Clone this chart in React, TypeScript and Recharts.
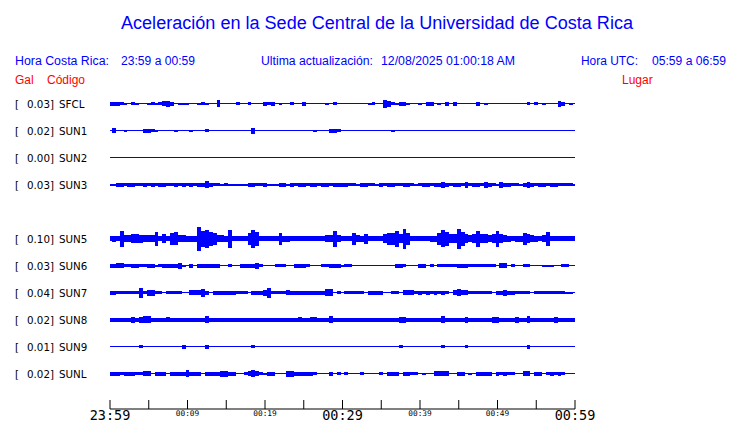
import { ComposedChart, Area, XAxis, YAxis, ReferenceLine } from 'recharts'

// stations, top to bottom (slot 4 = SUN4 is empty on the page)
const codes = ['SFCL', 'SUN1', 'SUN2', 'SUN3', 'SUN5', 'SUN6', 'SUN7', 'SUN8', 'SUN9', 'SUNL']
const peakGal = ['0.03', '0.02', '0.00', '0.03', '0.10', '0.03', '0.04', '0.02', '0.01', '0.02']
const places = [
    'Finca El Corralillo, Coronado', 'CIMAR', 'Ingenieria P01', 'Ingenieria P06', 'Rectoria',
    'Agroalimentarias', 'Archivo', 'Electrica P06', 'Electrica P01', 'LANAMME-CTT',
]
const slots = [0, 1, 2, 3, 5, 6, 7, 8, 9, 10]

// minutes after 23:59, one tick every 5 min
const xTicks = [0, 5, 10, 15, 20, 25, 30, 35, 40, 45, 50, 55, 60]
const xTickLabels = ['23:59', '', '00:09', '', '00:19', '', '00:29', '', '00:39', '', '00:49', '', '00:59']
const bigTicks = ['23:59', '00:29', '00:59']

// half-amplitude envelope of each trace, one value every 30 s
const SFCL = [2, 2, 2, 1.5, 1, 0, 1.5, 1, 0, 0,
    1, 1.5, 1, 1.5, 2.5, 3, 2, 0, 1, 1,
    1, 0, 0, 1, 1.5, 1, 0, 0, 3.5, 0,
    0, 0, 0, 1.5, 0, 0, 1.5, 0, 0, 0,
    2, 1.5, 2, 0, 1, 0, 0, 1.5, 0, 0,
    2, 0, 0, 0, 0, 0, 1, 0, 1.5, 0,
    0, 0, 0, 0, 0, 0, 0, 1, 1.5, 0,
    0, 4, 3, 1.5, 1, 2, 2, 1, 0, 0,
    1, 0, 2, 2, 0, 1, 0, 2, 0, 2,
    0, 0, 0, 0, 0, 2, 0, 1, 0, 0,
    0, 0, 0, 0, 0, 0, 0, 0, 1.5, 0,
    1.5, 0, 1, 0, 0, 0, 3, 2, 0, 1,
    0]
const SUN1 = [0, 2.5, 0, 0, 1, 0, 0, 0, 0, 2,
    2, 1.5, 1, 0, 0, 0, 0, 1, 0, 0,
    0, 1, 0, 0, 0, 1.5, 0, 0, 0, 0,
    0, 0, 0, 0, 0, 0, 0, 3, 0, 0,
    0, 0, 0, 0, 0, 0, 0, 0, 0, 0,
    0, 0, 0, 1, 0, 0, 0, 2, 2, 1.5,
    0, 0, 0, 0, 0, 0, 0, 0, 0, 0,
    0, 0, 0, 1, 0, 0, 0, 0, 0, 0,
    0, 0, 0, 0, 0, 0, 0, 0, 0, 0,
    0, 0, 0, 0, 0, 0, 0, 0, 0, 0,
    0, 0, 0, 0, 0, 0, 0, 0, 0, 0,
    0, 0, 0, 0, 0, 0, 0, 0, 0, 0,
    0]
const SUN2 = [0, 0, 0, 0, 0, 0, 0, 0, 0, 0,
    0, 0, 0, 0, 0, 0, 0, 0, 0, 0,
    0, 0, 0, 0, 0, 0, 0, 0, 0, 0,
    0, 0, 0, 0, 0, 0, 0, 0, 0, 0,
    0, 0, 0, 0, 0, 0, 0, 0, 0, 0,
    0, 0, 0, 0, 0, 0, 0, 0, 0, 0,
    0, 0, 0, 0, 0, 0, 0, 0, 0, 0,
    0, 0, 0, 0, 0, 0, 0, 0, 0, 0,
    0, 0, 0, 0, 0, 0, 0, 0, 0, 0,
    0, 0, 0, 0, 0, 0, 0, 0, 0, 0,
    0, 0, 0, 0, 0, 0, 0, 0, 0, 0,
    0, 0, 0, 0, 0, 0, 0, 0, 0, 0,
    0]
const SUN3 = [1, 1, 2, 2, 1.5, 2, 2, 1.5, 1.5, 2,
    1.5, 2, 1.5, 2, 2, 1.5, 1.5, 2, 1.5, 2,
    1.5, 2, 1.5, 2, 2, 3.5, 2, 1.5, 1.5, 1,
    1.5, 1, 1, 1, 1, 1, 2, 2, 1.5, 1.5,
    2, 1, 1, 1, 2, 2, 1, 2, 1.5, 2,
    2, 1.5, 2, 2, 1.5, 2, 2, 1.5, 2, 2,
    2, 2, 1.5, 1.5, 1, 2, 2, 1.5, 1.5, 1,
    2, 1.5, 2, 2, 1.5, 1.5, 2, 2, 1.5, 1,
    1.5, 2, 2, 1.5, 2, 2, 3, 2, 1.5, 2,
    2, 1.5, 3, 1.5, 2, 2, 1.5, 3, 2, 1.5,
    1, 3, 2, 2, 1.5, 1.5, 1, 2, 3, 2,
    1.5, 2, 2, 1.5, 2, 2, 1.5, 1.5, 1.5, 1.5,
    1]
const SUN5 = [2.5, 3, 2.5, 8, 3.5, 3.5, 4.5, 4.5, 4, 3.5,
    3.5, 3.5, 7, 2.5, 4.5, 2.5, 6, 6.5, 3.5, 3.5,
    3, 3, 3, 12, 8, 9, 7, 6, 3.5, 3.5,
    3, 9, 2.3, 2.5, 2.3, 2.5, 6, 9, 7, 2.5,
    2.5, 2.5, 2.5, 2.5, 6, 3, 3, 2.5, 2.5, 2.5,
    2.3, 2.5, 2.5, 2.3, 2.5, 2.5, 3.5, 3.5, 8, 3.5,
    2.5, 2.3, 2.3, 6, 3.5, 3, 5, 2.5, 2.3, 2.3,
    2.3, 4.5, 6, 6, 8, 4.5, 10, 6, 2.5, 2.5,
    2.3, 2.5, 2.5, 3, 3, 6, 8.5, 7, 4.5, 4.5,
    10, 7, 4.5, 3.5, 4.5, 8, 4.5, 4.5, 3.5, 4.5,
    8, 4.5, 3.5, 3, 2.5, 3, 3, 6, 4.5, 3.5,
    3, 2.5, 3.5, 7, 2.5, 2.3, 2.3, 2.3, 2.3, 2.3,
    2.3]
const SUN6 = [2, 2, 2.5, 2.5, 1.5, 1.5, 2, 2, 1.5, 1.5,
    2, 2, 1, 1.5, 2, 2, 2, 2, 3, 1,
    0, 2, 0, 2, 2, 2, 2, 2, 2, 0,
    0, 1.5, 0, 0, 2, 2, 2, 2, 3, 1.5,
    0, 0, 0, 1.5, 1.5, 1.5, 0, 0, 2, 2,
    2, 1.5, 0, 0, 0, 1.5, 1.5, 2, 2, 2,
    1, 1.5, 1.5, 0, 0, 0, 0, 0, 0, 0,
    0, 0, 0, 0, 2, 2, 1.5, 0, 0, 0,
    2, 2, 0, 1.5, 0, 1.5, 1.5, 1.5, 1.5, 1.5,
    2, 2, 2, 1.5, 1.5, 1.5, 1.5, 1.5, 1.5, 1.5,
    0, 2.5, 2.5, 0, 1.5, 0, 0, 1.5, 1.5, 0,
    0, 0, 1, 1, 1, 0, 0, 1.5, 1.5, 0,
    0]
const SUN7 = [2, 2, 1.5, 1.5, 1.5, 1.5, 1.5, 1.5, 5, 1.5,
    3, 3, 1.5, 1.5, 0, 1.5, 1.5, 1.5, 1.5, 0,
    0, 2.5, 2.5, 2.5, 4, 2, 0, 2, 2, 2,
    2, 2, 2, 1.5, 1.5, 1.5, 0, 2, 2, 2,
    3, 5, 1.5, 1.5, 1.5, 1.5, 2.5, 2, 2, 2,
    2, 2, 2, 2, 2, 2, 3.5, 3.5, 0, 1.5,
    0, 1.5, 1.5, 1.5, 1.5, 1.5, 0, 2, 2, 2,
    2, 0, 0, 1.5, 1.5, 0, 2.5, 2.5, 2.5, 1.5,
    2, 1.5, 2, 1.5, 2, 1.5, 2, 1.5, 0, 2.5,
    3.5, 2.5, 2.5, 1.5, 1.5, 1.5, 1.5, 1.5, 1.5, 0,
    2, 2, 3, 2, 2, 1.5, 1.5, 1.5, 1.5, 0,
    1.5, 1.5, 1.5, 1.5, 1.5, 1.5, 1.5, 1.5, 1, 1,
    0]
const SUN8 = [2, 2, 2, 2, 2, 2, 3, 2, 3, 3.5,
    3.5, 2, 2, 2, 2, 2.5, 2, 2, 2, 2,
    2, 2, 2, 2, 2, 3.5, 2, 2, 2, 2,
    2, 2, 2, 2, 2, 2, 2, 2, 2, 2,
    2, 2, 2, 2, 2, 2, 2, 2, 2, 2.5,
    2, 2, 2.5, 2.5, 2, 2, 2, 3.5, 2, 2,
    2, 2, 2, 2, 2, 2, 2, 2, 2, 2,
    2, 2, 2, 2, 2, 3, 3, 2, 2, 2,
    2, 2, 2, 2, 2, 2, 3.5, 2, 2, 2,
    2, 2, 3, 2, 2, 2, 2, 2, 2, 3,
    3, 2, 2, 2, 2, 3, 2, 2, 3.5, 2,
    2, 2, 2, 2, 2, 3, 2, 2, 2, 2,
    2]
const SUN9 = [0, 0, 0, 0, 0, 0, 0, 0, 1.5, 0,
    0, 0, 0, 0, 0, 0, 0, 0, 0, 2,
    0, 0, 0, 0, 0, 2, 0, 0, 0, 0,
    0, 0, 0, 0, 0, 0, 0, 1.5, 0, 0,
    0, 0, 0, 0, 0, 0, 0, 0, 0, 0,
    0, 0, 0, 0, 0, 0, 0, 0, 0, 0,
    0, 0, 0, 0, 0, 0, 0, 0, 0, 0,
    0, 0, 0, 0, 0, 1.5, 0, 0, 0, 0,
    0, 0, 0, 0, 0, 0, 1.5, 0, 0, 0,
    0, 0, 1.5, 0, 0, 0, 0, 0, 0, 0,
    0, 0, 0, 0, 0, 0, 0, 0, 2, 0,
    0, 0, 0, 0, 0, 0, 0, 0, 0, 0,
    0]
const SUNL = [2, 2, 2, 1.5, 2, 2, 2, 1.5, 1.5, 2.5,
    2.5, 0, 2, 2, 2, 0, 2, 2, 2, 2,
    3.5, 2, 2, 2, 0, 2, 2, 2, 2, 3,
    3, 2, 2, 0, 0, 1.5, 2.5, 3.5, 2.5, 1.5,
    1, 2, 2, 0, 0, 0, 3, 3, 2, 2,
    2, 2, 2, 1.5, 0, 0, 0, 2, 0, 1.5,
    0, 1.5, 0, 0, 0, 1.5, 0, 0, 0, 0,
    1.5, 0, 2, 2, 2, 0, 2, 2, 1.5, 1.5,
    0, 1, 0, 0, 2.5, 2.5, 2.5, 2.5, 0, 0,
    2, 2, 0, 1, 0, 2, 2, 2, 2, 0,
    2, 1.5, 2, 1.5, 1.5, 0, 0, 2.5, 2.5, 0,
    2, 2, 0, 1.5, 2, 1.5, 2, 1.5, 0, 0,
    0]

const traces = [SFCL, SUN1, SUN2, SUN3, SUN5, SUN6, SUN7, SUN8, SUN9, SUNL]

const GAP = 27
const BLUE = '#0000ff'

const data = SFCL.map((_, i) => {
    const row: Record<string, any> = { t: i / 2 }
    codes.forEach((code, s) => {
        const base = -GAP * slots[s]
        const a = traces[s][i]
        row[code] = [base - a, base + a]
    })
    return row
})

const yTicks = slots.map((s) => -GAP * s)

function stationIndex(v: number) {
    return yTicks.indexOf(v)
}

function LeftTick(props: any) {
    const { x, y, payload } = props
    const s = stationIndex(payload.value)
    if (s < 0) return null
    return (
        <g fontFamily="DejaVu Sans" fontSize={10.3} fill="#000">
            <text x={x - 95} y={y + 4}>[</text>
            <text x={x - 56} y={y + 4} textAnchor="end">{peakGal[s]}]</text>
            <text x={x - 51} y={y + 4}>{codes[s]}</text>
        </g>
    )
}

function RightTick(props: any) {
    const { x, y, payload } = props
    const s = stationIndex(payload.value)
    if (s < 0) return null
    return (
        <text x={x + 12} y={y + 4} fontFamily="DejaVu Sans" fontSize={10.3} fill="#000">
            {places[s]}
        </text>
    )
}

function TimeTick(props: any) {
    const { x, y, index } = props
    const label = xTickLabels[index]
    const big = bigTicks.includes(label)
    return (
        <g>
            <line x1={x} x2={x} y1={y} y2={y - 9} stroke="#000" strokeWidth={1} />
            {label && (
                <text
                    x={x}
                    y={big ? y + 10.5 : y + 6.5}
                    textAnchor="middle"
                    fontFamily="DejaVu Sans Mono"
                    fontSize={big ? 13.5 : 7.8}
                    fill="#000"
                >
                    {label}
                </text>
            )}
        </g>
    )
}

function Header() {
    const f = 'Liberation Sans, Arial, sans-serif'
    return (
        <svg width={740} height={92} style={{ position: 'absolute', left: 0, top: 0, pointerEvents: 'none' }}>
            <text x={121} y={29} fontFamily={f} fontSize={18} fill={BLUE} textLength={512} lengthAdjust="spacingAndGlyphs">
                Aceleración en la Sede Central de la Universidad de Costa Rica
            </text>
            <g fontFamily={f} fontSize={12} fill={BLUE}>
                <text x={15} y={65} textLength={94} lengthAdjust="spacingAndGlyphs">Hora Costa Rica:</text>
                <text x={121} y={65} textLength={74} lengthAdjust="spacingAndGlyphs">23:59 a 00:59</text>
                <text x={261} y={65} textLength={112} lengthAdjust="spacingAndGlyphs">Ultima actualización:</text>
                <text x={381} y={65} textLength={134} lengthAdjust="spacingAndGlyphs">12/08/2025 01:00:18 AM</text>
                <text x={581} y={65} textLength={57} lengthAdjust="spacingAndGlyphs">Hora UTC:</text>
                <text x={652} y={65} textLength={74} lengthAdjust="spacingAndGlyphs">05:59 a 06:59</text>
            </g>
            <g fontFamily={f} fontSize={12} fill="#ff0000">
                <text x={15} y={84}>Gal</text>
                <text x={47} y={84}>Código</text>
                <text x={622} y={84}>Lugar</text>
            </g>
        </svg>
    )
}

export default function App() {
    return (
        <div style={{ position: 'absolute', left: 0, top: 0, width: 740, height: 423, background: '#fff' }}>
            <style>{'.recharts-area-area{shape-rendering:crispEdges}'}</style>
            <Header />
            <ComposedChart width={740} height={423} data={data} margin={{ top: 76, right: 0, bottom: 0, left: 0 }}>
                <XAxis
                    dataKey="t"
                    type="number"
                    domain={[0, 60]}
                    ticks={xTicks}
                    interval={0}
                    height={14}
                    tickSize={0}
                    tickMargin={0}
                    tickLine={false}
                    axisLine={{ stroke: '#000', strokeWidth: 1 }}
                    tick={TimeTick}
                />
                <YAxis
                    yAxisId="left"
                    type="number"
                    domain={[-305.5, 27.5]}
                    ticks={yTicks}
                    interval={0}
                    width={110}
                    tickSize={0}
                    tickMargin={0}
                    axisLine={false}
                    tickLine={false}
                    tick={LeftTick}
                />
                <YAxis
                    yAxisId="right"
                    orientation="right"
                    type="number"
                    domain={[-305.5, 27.5]}
                    ticks={yTicks}
                    interval={0}
                    width={165}
                    tickSize={0}
                    tickMargin={0}
                    axisLine={false}
                    tickLine={false}
                    tick={RightTick}
                />
                {yTicks.map((b) => (
                    <ReferenceLine key={b} yAxisId="left" y={b} stroke={BLUE} strokeWidth={1} ifOverflow="visible" />
                ))}
                {codes.map((code) => (
                    <Area
                        key={code}
                        yAxisId="left"
                        dataKey={code}
                        type="step"
                        stroke="none"
                        fill={BLUE}
                        fillOpacity={1}
                        isAnimationActive={false}
                        dot={false}
                        activeDot={false}
                    />
                ))}
            </ComposedChart>
        </div>
    )
}
